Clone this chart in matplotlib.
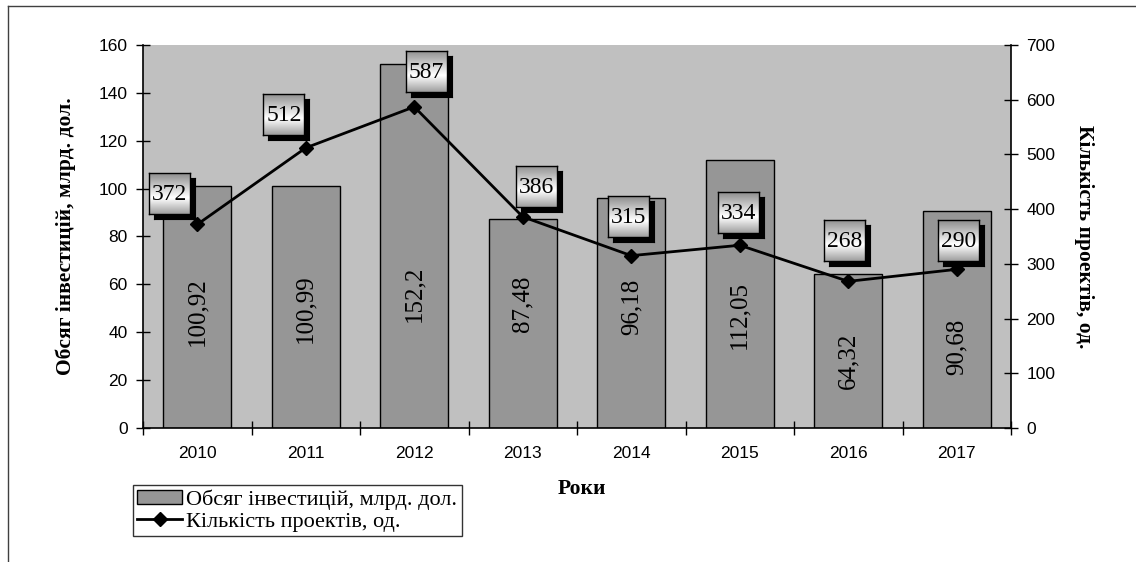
import numpy as np
import matplotlib
matplotlib.use("Agg")
import matplotlib.pyplot as plt
from matplotlib.lines import Line2D
from matplotlib.patches import Patch

# ---- data ----
years = ["2010", "2011", "2012", "2013", "2014", "2015", "2016", "2017"]
investment = [100.92, 100.99, 152.2, 87.48, 96.18, 112.05, 64.32, 90.68]
investment_labels = ["100,92", "100,99", "152,2", "87,48", "96,18", "112,05", "64,32", "90,68"]
projects = [372, 512, 587, 386, 315, 334, 268, 290]

# label placement (not data)
bar_label_y = [48.6, 49.8, 56, 52, 50.6, 47, 28, 34]
box_offsets = [(-28, 31), (-22, 33), (12, 35), (14, 30), (-3, 39), (-1, 33), (-4, 41), (2, 29)]

W, H = 1136, 562
SERIF = "Liberation Serif"
SANS = "Liberation Sans"

fig = plt.figure(figsize=(W / 100, H / 100), dpi=100)
fig.patch.set_facecolor("white")

L, R, T, B = 143, 1011, 45, 428
ax = fig.add_axes([L / W, (H - B) / H, (R - L) / W, (B - T) / H])
ax.set_facecolor("#C0C0C0")

x = np.arange(len(years))
ax.bar(x, investment, width=0.63, color="#969696", edgecolor="black", linewidth=1, zorder=2)
ax.set_xlim(-0.5, len(years) - 0.5)
ax.set_ylim(0, 160)
ax.set_yticks(np.arange(0, 161, 20))
ax.set_xticks(x)
ax.set_xticklabels(years, fontfamily=SANS, fontsize=12.5)
ax.set_xticks(np.arange(-0.5, len(years), 1), minor=True)
ax.tick_params(axis="x", which="major", length=0, pad=13)
ax.tick_params(axis="x", which="minor", length=10, direction="inout", width=1)
ax.tick_params(axis="y", length=10, direction="inout", width=1, labelsize=12.5, pad=6)
for lab in ax.get_yticklabels():
    lab.set_fontfamily(SANS)
for s in ["top", "right"]:
    ax.spines[s].set_visible(False)
ax.spines["left"].set_linewidth(1.2)
ax.spines["bottom"].set_linewidth(1.2)

for xi, yl, txt in zip(x, bar_label_y, investment_labels):
    ax.text(xi, yl, txt, rotation=90, ha="center", va="center",
            fontfamily=SERIF, fontsize=18, zorder=3)

ax2 = ax.twinx()
ax2.set_ylim(0, 700)
ax2.set_yticks(np.arange(0, 701, 100))
ax2.tick_params(axis="y", length=10, direction="inout", width=1, labelsize=12.5, pad=6)
for lab in ax2.get_yticklabels():
    lab.set_fontfamily(SANS)
for s in ["top", "left", "bottom"]:
    ax2.spines[s].set_visible(False)
ax2.spines["right"].set_linewidth(1.2)
ax2.plot(x, projects, color="black", linewidth=2, marker="D", markersize=7, zorder=4)

ax.set_ylabel("Обсяг інвестицій, млрд. дол.", fontfamily=SERIF, fontsize=15.5,
              fontweight="bold", labelpad=16)
ax2.set_ylabel("Кількість проектів, од.", fontfamily=SERIF, fontsize=15.5,
               fontweight="bold", rotation=270, labelpad=28)
fig.text(582 / W, 1 - 489 / H, "Роки", fontfamily=SERIF, fontsize=15.5,
         fontweight="bold", ha="center", va="center")

# value boxes with gradient and shadow
fig.canvas.draw()
grad = np.concatenate([np.linspace(0.55, 1.0, 60), np.linspace(1.0, 0.62, 40)])[:, None]
bw, bh = 41, 41
for xi, v, (dx, dy) in zip(x, projects, box_offsets):
    px, py = ax2.transData.transform((xi, v))
    cx, cy = px + dx, py + dy
    x0, y0 = cx - bw / 2, cy - bh / 2
    sh = fig.add_axes([(x0 + 5) / W, (y0 - 5) / H, bw / W, bh / H])
    sh.set_facecolor("black")
    sh.set_xticks([]); sh.set_yticks([])
    bx = fig.add_axes([x0 / W, y0 / H, bw / W, bh / H])
    bx.imshow(grad, cmap="gray", vmin=0, vmax=1, aspect="auto", extent=(0, 1, 0, 1))
    bx.set_xticks([]); bx.set_yticks([])
    for s in bx.spines.values():
        s.set_linewidth(1)
    bx.text(0.5, 0.48, str(v), ha="center", va="center", fontfamily=SERIF, fontsize=17,
            transform=bx.transAxes)

# legend
handles = [Patch(facecolor="#969696", edgecolor="black", linewidth=1),
           Line2D([0], [0], color="black", linewidth=2, marker="D", markersize=7)]
leg = fig.legend(handles, ["Обсяг інвестицій, млрд. дол.", "Кількість проектів, од."],
                 loc="upper left", bbox_to_anchor=(133 / W, 1 - 485 / H),
                 prop={"family": SERIF, "size": 16}, frameon=True, fancybox=False,
                 edgecolor="black", handlelength=2.0, handleheight=0.55,
                 borderpad=0.2, labelspacing=0.1, handletextpad=0.2,
                 borderaxespad=0)
leg.get_frame().set_linewidth(1)

# outer frame
fig.add_artist(Line2D([8 / W, 1], [1 - 6 / H, 1 - 6 / H], color="#404040", linewidth=1,
                      transform=fig.transFigure))
fig.add_artist(Line2D([8 / W, 8 / W], [1 - 6 / H, 0], color="#404040", linewidth=1,
                      transform=fig.transFigure))

fig.savefig("out.png", dpi=100)
